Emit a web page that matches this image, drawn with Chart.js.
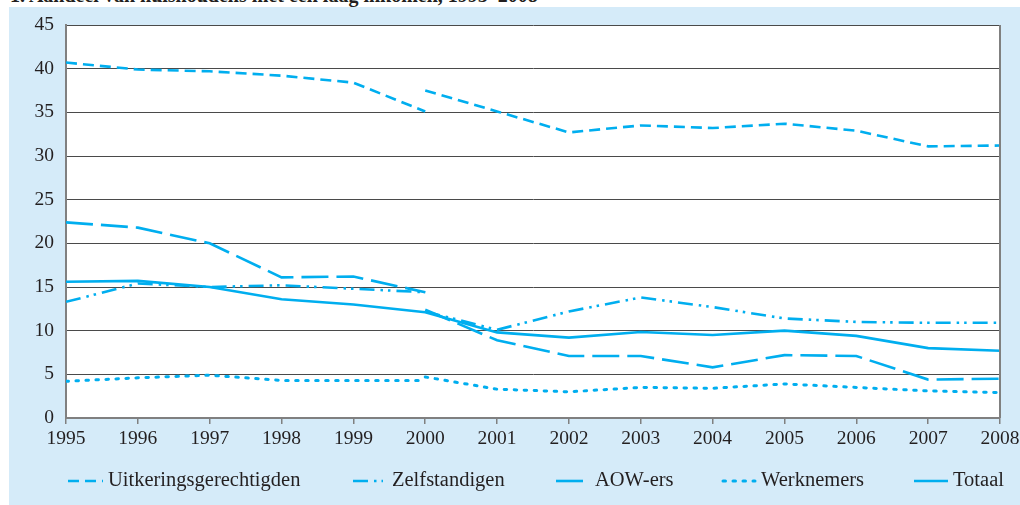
<!DOCTYPE html>
<html>
<head>
<meta charset="utf-8">
<script src="https://cdn.jsdelivr.net/npm/chart.js@4/dist/chart.umd.min.js"></script>
<style>
  html, body { margin: 0; padding: 0; background: #fff; width: 1020px; height: 505px; overflow: hidden; }
  .title { position: absolute; left: 10px; top: -16px; line-height: 20px; font: bold 20px "Liberation Serif", serif; color: #231f20; white-space: nowrap; }
  .panel { position: absolute; left: 9px; top: 7px; width: 1011px; height: 498px; background: #d5ebf9; }
</style>
</head>
<body>
<div class="title">1. Aandeel van huishoudens met een laag inkomen, 1995–2008</div>
<div class="panel"><canvas id="chart"></canvas></div>
<script>
// ── data (percentages; break in series at 2000) ──
const years = [1995, 1996, 1997, 1998, 1999, 2000, 2001, 2002, 2003, 2004, 2005, 2006, 2007, 2008];
const seriesNames = ['Uitkeringsgerechtigden', 'Zelfstandigen', 'AOW-ers', 'Werknemers', 'Totaal'];

// old definition 1995–2000
const uitkOud   = [40.7, 39.9, 39.7, 39.2, 38.4, 35.1];
const zelfOud   = [13.3, 15.4, 15.0, 15.2, 14.8, 14.4];
const aowOud    = [22.4, 21.8, 20.0, 16.1, 16.2, 14.4];
const werkOud   = [4.2, 4.6, 4.9, 4.3, 4.3, 4.3];
const totaalOud = [15.6, 15.7, 15.0, 13.6, 13.0, 12.1];

// new definition 2000–2008
const uitkNieuw   = [37.5, 35.1, 32.7, 33.5, 33.2, 33.7, 32.9, 31.1, 31.2];
const zelfNieuw   = [12.2, 10.1, 12.2, 13.8, 12.7, 11.4, 11.0, 10.9, 10.9];
const aowNieuw    = [12.4, 8.9, 7.1, 7.1, 5.8, 7.2, 7.1, 4.4, 4.5];
const werkNieuw   = [4.7, 3.3, 3.0, 3.5, 3.4, 3.9, 3.5, 3.1, 2.9];
const totaalNieuw = [12.1, 9.8, 9.2, 9.85, 9.5, 10.0, 9.4, 8.0, 7.7];

const yTicks = { min: 0, max: 45, step: 5 };

const BLUE = '#00aeef';
const INK  = '#231f20';
const FONT = '"Liberation Serif", "Times New Roman", serif';

// join old + new with a null point so the line breaks at 2000
function seg(oud, nieuw) {
  const a = oud.map((y, i) => ({ x: years[i], y }));
  const b = nieuw.map((y, i) => ({ x: years[oud.length - 1 + i], y }));
  return [...a, { x: years[oud.length - 1], y: null }, ...b];
}

const dashes = [[11, 6], [15, 6, 2.5, 5, 2.5, 6], [27, 8], [2.5, 7.5], []];
const caps   = ['butt', 'butt', 'butt', 'round', 'butt'];
const datas  = [seg(uitkOud, uitkNieuw), seg(zelfOud, zelfNieuw), seg(aowOud, aowNieuw), seg(werkOud, werkNieuw), seg(totaalOud, totaalNieuw)];

const datasets = seriesNames.map((name, i) => ({
  label: name,
  data: datas[i],
  borderColor: BLUE,
  borderWidth: i === 3 ? 3 : 2.6,
  borderDash: dashes[i],
  borderCapStyle: caps[i],
  pointRadius: 0,
  tension: 0,
  spanGaps: false,
  fill: false
}));

// white plot area + right frame
const plotFrame = {
  id: 'plotFrame',
  beforeDraw(chart) {
    const { ctx, chartArea: a } = chart;
    ctx.save();
    ctx.fillStyle = '#fff';
    ctx.fillRect(a.left, a.top, a.right - a.left, a.bottom - a.top);
    ctx.restore();
  },
  afterDraw(chart) {
    const { ctx, chartArea: a } = chart;
    ctx.save();
    ctx.strokeStyle = '#808080';
    ctx.lineWidth = 2;
    ctx.beginPath();
    ctx.moveTo(a.right, a.top);
    ctx.lineTo(a.right, a.bottom);
    ctx.stroke();
    ctx.restore();
  }
};

// legend row under the axis, drawn from the datasets' own styles
const lineLegend = {
  id: 'lineLegend',
  afterDraw(chart, args, opts) {
    const { ctx } = chart;
    ctx.save();
    ctx.font = '20.5px ' + FONT;
    ctx.fillStyle = INK;
    ctx.textBaseline = 'middle';
    chart.data.datasets.forEach((ds, i) => {
      const [x0, x1, tx] = opts.slots[i];
      ctx.strokeStyle = ds.borderColor;
      ctx.lineWidth = ds.borderWidth;
      ctx.lineCap = ds.borderCapStyle;
      ctx.setLineDash(ds.borderDash);
      ctx.beginPath();
      ctx.moveTo(x0, opts.y);
      ctx.lineTo(x1, opts.y);
      ctx.stroke();
      ctx.setLineDash([]);
      ctx.fillText(ds.label, tx, opts.y);
    });
    ctx.restore();
  }
};

new Chart(document.getElementById('chart'), {
  type: 'line',
  data: { datasets },
  plugins: [plotFrame, lineLegend],
  options: {
    responsive: true, maintainAspectRatio: false, animation: false,
    layout: { padding: { top: 18, right: 20, left: 0, bottom: 0 } },
    plugins: {
      legend: { display: false },
      tooltip: { enabled: false },
      lineLegend: {
        y: 474,
        slots: [[59, 94, 99], [344, 374, 383], [547, 581, 586], [714, 746, 752], [905, 939, 944]]
      }
    },
    scales: {
      x: {
        type: 'linear', min: years[0], max: years[years.length - 1],
        afterFit: s => { s.height = 87; s.paddingLeft = 0; s.paddingRight = 0; },
        ticks: { stepSize: 1, autoSkip: false, maxRotation: 0, padding: 3, color: INK, font: { family: FONT, size: 19.5 }, callback: v => String(v) },
        grid: { drawOnChartArea: false, drawTicks: true, tickLength: 6, color: '#808080', lineWidth: 1.5 },
        border: { color: '#808080', width: 2 }
      },
      y: {
        min: yTicks.min, max: yTicks.max,
        afterFit: s => { s.width = 57; s.paddingTop = 0; s.paddingBottom = 0; },
        ticks: { stepSize: yTicks.step, padding: 12, color: INK, font: { family: FONT, size: 19.5 } },
        grid: { color: '#4a4a4a', lineWidth: 1, drawTicks: false },
        border: { color: '#808080', width: 2 }
      }
    }
  }
});
</script>
</body>
</html>
